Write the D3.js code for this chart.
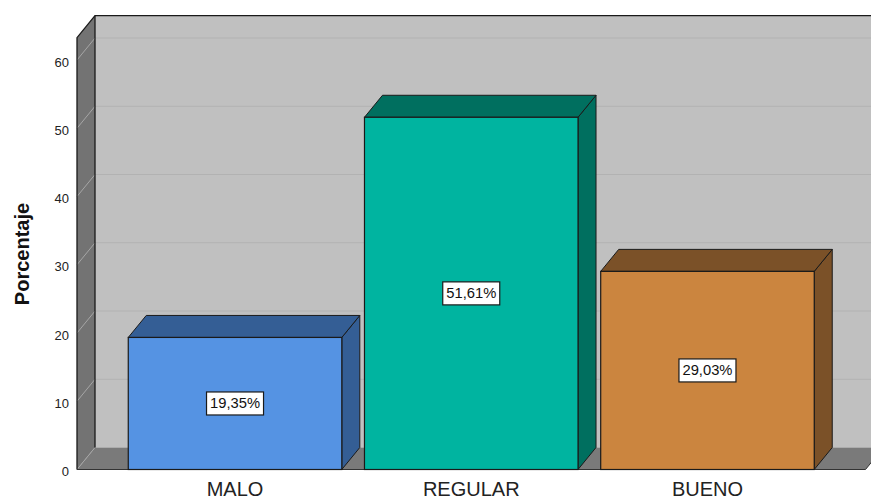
<!DOCTYPE html>
<html>
<head>
<meta charset="utf-8">
<script src="https://cdn.jsdelivr.net/npm/d3@7"></script>
<style>
  html, body { margin: 0; padding: 0; background: #ffffff; }
  svg { display: block; }
</style>
</head>
<body>
<svg id="chart" width="871" height="499"></svg>
<script>
// ---- data ----
const categories = ["MALO", "REGULAR", "BUENO"];
const values = [19.35, 51.61, 29.03];
const valueLabels = ["19,35%", "51,61%", "29,03%"];
const yTicks = [0, 10, 20, 30, 40, 50, 60];
const frontColors = ["#5593e3", "#00b4a0", "#cb853f"];
const darkColors = ["#345e95", "#006f5f", "#7b5128"];

// ---- layout ----
const W = 871, H = 499;
const DX = 18, DY = -22;
const x0 = 77, x1 = 865.5;
const yBottom = 469.5, yTop = 37.7;

const svg = d3.select("#chart");
const font = "'Liberation Sans', Arial, sans-serif";

const y = d3.scaleLinear().domain([0, 63.27]).range([yBottom, yTop]);
const x = d3.scaleBand().domain(categories).range([x0, x1])
  .paddingInner(0.096).paddingOuter(0.217);

const line = d3.line();
const edge = "#1a1a1a";

// back wall
svg.append("rect")
  .attr("x", x0 + DX).attr("y", yTop + DY)
  .attr("width", W - (x0 + DX) + 5).attr("height", (yBottom + DY) - (yTop + DY))
  .attr("fill", "#c0c0c0");

// back wall gridlines
svg.append("g").selectAll("line").data(yTicks.filter(t => t > 0)).join("line")
  .attr("x1", x0 + DX).attr("x2", W)
  .attr("y1", d => y(d) + DY).attr("y2", d => y(d) + DY)
  .attr("stroke", "#b2b2b2").attr("stroke-width", 1.2);

// left wall
svg.append("path")
  .attr("d", line([[x0, yBottom], [x0, yTop], [x0 + DX, yTop + DY], [x0 + DX, yBottom + DY]]) + "Z")
  .attr("fill", "#737373");

// left wall gridlines
svg.append("g").selectAll("line").data(yTicks.filter(t => t > 0)).join("line")
  .attr("x1", x0).attr("x2", x0 + DX)
  .attr("y1", d => y(d)).attr("y2", d => y(d) + DY)
  .attr("stroke", "#a6a6a6").attr("stroke-width", 1);

// floor
svg.append("path")
  .attr("d", line([[x0, yBottom], [x1, yBottom], [x1 + DX, yBottom + DY], [x0 + DX, yBottom + DY]]) + "Z")
  .attr("fill", "#7a7a7a");
svg.append("line")
  .attr("x1", x0).attr("y1", yBottom).attr("x2", x0 + DX).attr("y2", yBottom + DY)
  .attr("stroke", "#a6a6a6").attr("stroke-width", 1);

// wall outlines
svg.append("path")
  .attr("d", line([[x0, yBottom], [x0, yTop], [x0 + DX, yTop + DY], [W + 2, yTop + DY]]))
  .attr("fill", "none").attr("stroke", edge).attr("stroke-width", 1.3);
svg.append("line")
  .attr("x1", x0 + DX).attr("y1", yTop + DY).attr("x2", x0 + DX).attr("y2", yBottom + DY)
  .attr("stroke", edge).attr("stroke-width", 1.3);
svg.append("line")
  .attr("x1", x0).attr("y1", yBottom).attr("x2", x1).attr("y2", yBottom)
  .attr("stroke", "#333").attr("stroke-width", 1.2);
svg.append("line")
  .attr("x1", x1).attr("y1", yBottom).attr("x2", x1 + DX).attr("y2", yBottom + DY)
  .attr("stroke", "#333").attr("stroke-width", 1);

// bars
const bars = svg.append("g").selectAll("g").data(categories).join("g");
bars.each(function(c, i) {
  const g = d3.select(this);
  const bx = x(c), bw = x.bandwidth();
  const top = y(values[i]);
  // side face
  g.append("path")
    .attr("d", line([[bx + bw, yBottom], [bx + bw, top], [bx + bw + DX, top + DY], [bx + bw + DX, yBottom + DY]]) + "Z")
    .attr("fill", darkColors[i]).attr("stroke", edge).attr("stroke-width", 1).attr("stroke-linejoin", "round");
  // top face
  g.append("path")
    .attr("d", line([[bx, top], [bx + DX, top + DY], [bx + bw + DX, top + DY], [bx + bw, top]]) + "Z")
    .attr("fill", darkColors[i]).attr("stroke", edge).attr("stroke-width", 1).attr("stroke-linejoin", "round");
  // front face
  g.append("rect")
    .attr("x", bx).attr("y", top).attr("width", bw).attr("height", yBottom - top)
    .attr("fill", frontColors[i]).attr("stroke", edge).attr("stroke-width", 1.2);
  // value label
  const cx = bx + bw / 2, cy = (top + yBottom) / 2;
  g.append("rect")
    .attr("x", cx - 28.5).attr("y", cy - 11.5)
    .attr("width", 57).attr("height", 23)
    .attr("fill", "#ffffff").attr("stroke", "#1a1a1a").attr("stroke-width", 1.2);
  g.append("text")
    .attr("x", cx).attr("y", cy + 5)
    .attr("text-anchor", "middle")
    .attr("font-family", font).attr("font-size", 14).attr("fill", "#111")
    .attr("textLength", 50).attr("lengthAdjust", "spacingAndGlyphs")
    .text(valueLabels[i]);
});

// y tick labels
svg.append("g").selectAll("text").data(yTicks).join("text")
  .attr("x", 69).attr("y", d => y(d) + 6.5)
  .attr("text-anchor", "end")
  .attr("font-family", font).attr("font-size", 13).attr("fill", "#222")
  .text(d => d);

// y axis title
svg.append("text")
  .attr("transform", "translate(29,254) rotate(-90)")
  .attr("text-anchor", "middle")
  .attr("font-family", font).attr("font-size", 20).attr("font-weight", "bold").attr("fill", "#111")
  .text("Porcentaje");

// category labels
svg.append("g").selectAll("text").data(categories).join("text")
  .attr("x", d => x(d) + x.bandwidth() / 2).attr("y", 495.5)
  .attr("text-anchor", "middle")
  .attr("font-family", font).attr("font-size", 20).attr("fill", "#222")
  .text(d => d);
</script>
</body>
</html>
